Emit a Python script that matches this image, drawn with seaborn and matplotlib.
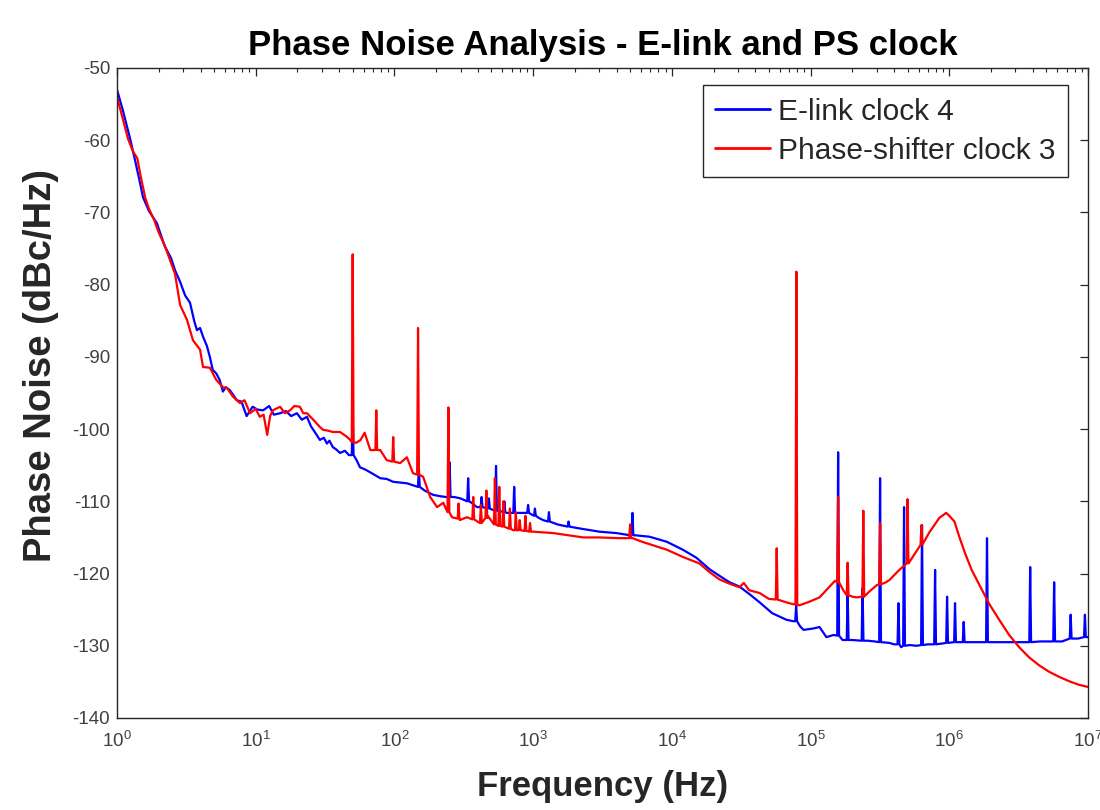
import numpy as np
import pandas as pd
import matplotlib
matplotlib.use("Agg")
import matplotlib.pyplot as plt
import seaborn as sns
from matplotlib.ticker import LogLocator, LogFormatterSciNotation, NullFormatter

# ---------------- data ----------------
series_names = ["E-link clock 4", "Phase-shifter clock 3"]

elink_freq = [1.0, 1.1, 1.24, 1.35, 1.45, 1.54, 1.7, 1.94, 2.2, 2.45, 2.62, 2.85, 3.1, 3.36, 3.6,
              3.77, 3.97, 4.17, 4.45, 4.67, 4.9, 5.2, 5.5, 5.8, 6.1, 6.5, 6.9, 7.3, 7.9, 8.6, 9.5,
              10.3, 11.3, 12.5, 13.5, 15.0, 16.5, 18.0, 19.8, 21.5, 23.4, 25.0, 27.5, 29.0, 31.0,
              32.6, 34.0, 36.0, 38.0, 40.5, 44.0, 47.0, 53.0, 56.5, 60.0, 63.0, 70.0, 79.0, 88.0,
              98.0, 110, 123, 137, 165, 190, 215, 235, 270, 300, 360, 393, 450, 514, 570, 647, 800,
              870, 970, 1100, 1180, 1500, 2080, 3000, 4000, 5000, 5450, 6900, 9200, 12000, 15000,
              18700, 22000, 26000, 30700, 36000, 43000, 53000, 67000, 75000, 84000, 89000, 105000,
              116000, 130000, 147000, 170000, 200000, 260000, 290000, 370000, 400000, 450000,
              520000, 580000, 700000, 880000, 1200000, 1500000, 2500000, 3200000, 4500000,
              6500000, 8500000, 10000000]
elink_db = [-53.0, -55.8, -59.7, -62.8, -65.5, -67.9, -69.8, -71.5, -74.6, -76.3, -78.0, -79.6, -81.5,
            -82.5, -85.0, -86.3, -86.0, -87.2, -88.5, -90.0, -91.8, -92.3, -93.2, -94.8, -94.2, -94.6,
            -95.3, -96.0, -96.2, -98.2, -96.9, -97.3, -97.4, -96.8, -98.0, -97.8, -97.5, -98.2, -97.8,
            -98.7, -98.3, -99.6, -100.8, -101.5, -101.2, -102.0, -101.6, -102.5, -102.8, -103.3,
            -103.0, -103.6, -104.2, -105.3, -105.5, -105.7, -106.2, -106.8, -106.9, -107.3, -107.4,
            -107.5, -107.8, -108.5, -109.1, -109.3, -109.4, -109.4, -109.6, -110.2, -110.8, -110.9,
            -111.2, -111.3, -111.6, -111.6, -111.6, -111.8, -112.3, -112.6, -113.2, -113.7, -114.2,
            -114.4, -114.7, -114.7, -114.9, -115.6, -116.7, -117.8, -119.4, -120.3, -121.2, -121.8,
            -122.8, -124.0, -125.5, -126.4, -126.6, -127.3, -127.8, -127.6, -127.4, -128.8, -128.5,
            -129.2, -129.2, -129.3, -129.4, -129.6, -129.8, -130.2, -129.9, -130.0, -129.8, -129.7,
            -129.5, -129.5, -129.5, -129.5, -129.4, -129.4, -129.0, -128.8]
elink_spike_freq = [50, 150, 250, 340, 425, 480, 540, 620, 730, 920, 1030, 1300, 1800, 5200, 78700,
                    158000, 185000, 237000, 317000, 430000, 472000, 636000, 790000, 964000,
                    1100000, 1270000, 1870000, 3830000, 5700000, 7500000, 9500000]
elink_spike_base = [-103.6, -108.0, -109.4, -110.0, -110.8, -111.0, -111.3, -111.5, -111.6, -111.6,
                    -112.0, -112.8, -113.5, -114.7, -126.6, -128.6, -129.2, -129.3, -129.5, -129.8,
                    -130.0, -129.9, -129.8, -129.6, -129.5, -129.5, -129.5, -129.5, -129.4, -129.0,
                    -128.8]
elink_spike_peak = [-98.0, -105.5, -104.6, -106.8, -109.4, -109.6, -105.1, -110.0, -108.0, -110.5,
                    -111.0, -111.5, -112.8, -111.6, -124.4, -103.2, -122.5, -122.0, -106.8, -124.1,
                    -110.8, -113.3, -119.5, -123.2, -124.1, -126.7, -115.1, -119.1, -121.2, -125.7,
                    -125.7]

ps_freq = [1.0, 1.1, 1.2, 1.3, 1.4, 1.5, 1.6, 1.7, 1.85, 2.0, 2.2, 2.4, 2.62, 2.85, 3.2, 3.53, 3.97,
           4.17, 4.67, 5.2, 5.8, 6.2, 6.85, 7.7, 8.3, 9.1, 10.0, 10.7, 11.4, 12.1, 12.7, 13.3, 15.0,
           16.2, 17.7, 19.0, 20.8, 22.0, 23.4, 26.0, 29.0, 30.6, 33.0, 36.0, 40.5, 45.0, 48.0, 53.0,
           57.0, 61.0, 67.0, 79.0, 88.0, 110.0, 123.0, 136.0, 161.0, 181.0, 203.0, 225.0, 260.0,
           296.0, 333.0, 412.0, 470, 550.0, 718.0, 1000.0, 1400.0, 2300.0, 3000.0, 4200.0, 5200.0,
           6100.0, 9200.0, 12000.0, 15800, 18700, 22000, 26000, 30700, 33000, 36000, 43000, 50000,
           60000, 70000, 83000, 98000, 116000, 137000, 150000, 172000, 200000, 215000, 265000,
           300000, 350000, 370000, 436000, 520000, 608000, 718000, 800000, 847000, 950000, 1000000,
           1090000, 1180000, 1300000, 1450000, 1640000, 1940000, 2290000, 2700000, 3190000,
           3760000, 4440000, 5240000, 6190000, 7300000, 8600000, 10000000]
ps_db = [-54.0, -57.0, -59.8, -61.5, -62.5, -65.5, -68.0, -69.5, -71.0, -72.8, -74.5, -76.5, -78.5,
         -82.8, -84.9, -87.7, -89.0, -91.4, -91.5, -93.2, -94.2, -94.3, -95.5, -96.4, -96.0, -97.8,
         -97.2, -98.3, -98.0, -100.8, -98.2, -97.4, -96.9, -97.8, -97.4, -96.8, -96.9, -97.8, -97.8,
         -98.7, -99.7, -100.1, -100.2, -100.4, -100.4, -101.0, -101.5, -101.9, -101.5, -100.5,
         -102.9, -102.9, -104.3, -104.7, -103.9, -106.1, -106.6, -109.4, -110.8, -110.2, -112.2,
         -112.6, -112.2, -113.0, -112.0, -113.3, -114.0, -114.2, -114.4, -115.0, -115.0, -115.1,
         -115.1, -115.6, -116.7, -117.7, -118.6, -119.8, -120.8, -121.4, -121.9, -121.3, -122.3,
         -122.7, -123.5, -123.7, -124.1, -124.4, -123.9, -123.3, -121.8, -121.0, -122.3, -123.2,
         -123.3, -122.5, -121.6, -121.2, -120.9, -119.5, -118.3, -116.3, -114.3, -113.0, -112.3,
         -111.6, -112.0, -112.8, -114.9, -117.2, -119.5, -121.5, -124.2, -126.4, -128.5, -130.2,
         -131.6, -132.7, -133.6, -134.3, -134.9, -135.4, -135.7]
ps_spike_freq = [50, 74, 98, 148, 245, 290, 370, 420, 460, 530, 570, 610, 680, 750, 800, 880, 950,
                 5000, 57000, 79000, 158000, 185000, 240000, 317000, 500000, 630000]
ps_spike_base = [-101.8, -102.9, -104.5, -106.3, -111.5, -112.4, -112.5, -113.0, -112.3, -113.2,
                 -113.4, -113.5, -113.8, -114.0, -114.0, -114.1, -114.2, -115.1, -123.6, -124.3,
                 -121.2, -123.0, -123.2, -121.5, -118.6, -116.0]
ps_spike_peak = [-75.8, -97.4, -101.1, -86.0, -97.0, -110.3, -109.4, -110.5, -108.5, -106.8,
                 -108.0, -110.0, -111.0, -111.5, -112.6, -112.0, -113.0, -113.2, -116.5, -78.2,
                 -109.4, -118.5, -111.3, -113.0, -109.7, -113.3]

x_ticks = [1e0, 1e1, 1e2, 1e3, 1e4, 1e5, 1e6, 1e7]
y_ticks = list(range(-140, -49, 10))

# ---------------- build tidy frame ----------------
SPIKE_W = 1.015  # half-width factor of a spike on the log axis (style)


def build(name, freq, db, sf, sb, sp):
    xs = list(freq)
    ys = list(db)
    for f, b, p in zip(sf, sb, sp):
        xs += [f / SPIKE_W, f, f * SPIKE_W]
        ys += [b, p, b]
    return pd.DataFrame({"Frequency": xs, "PN": ys, "Series": name})


df = pd.concat([
    build(series_names[0], elink_freq, elink_db, elink_spike_freq, elink_spike_base, elink_spike_peak),
    build(series_names[1], ps_freq, ps_db, ps_spike_freq, ps_spike_base, ps_spike_peak),
], ignore_index=True)

# ---------------- style ----------------
sns.set_style("white")
plt.rcParams["font.family"] = ["Liberation Sans", "DejaVu Sans"]
plt.rcParams["mathtext.fontset"] = "custom"
plt.rcParams["mathtext.rm"] = "Liberation Sans"
plt.rcParams["mathtext.it"] = "Liberation Sans"
plt.rcParams["mathtext.default"] = "regular"
plt.rcParams["axes.unicode_minus"] = False

fig = plt.figure(figsize=(11, 8.1), dpi=100)
ax = fig.add_axes([117 / 1100, 1 - 718 / 810, (1088 - 117) / 1100, (718 - 68) / 810])

sns.lineplot(data=df, x="Frequency", y="PN", hue="Series", hue_order=series_names,
             palette=["#0000FF", "#FF0000"], estimator=None, sort=True, linewidth=1.6, ax=ax)

ax.set_xscale("log")
ax.set_xlim(1, 1e7)
ax.set_ylim(-140, -50)
ax.set_xticks(x_ticks)
ax.xaxis.set_major_formatter(LogFormatterSciNotation())
ax.xaxis.set_minor_locator(LogLocator(base=10, subs=np.arange(2, 10), numticks=100))
ax.xaxis.set_minor_formatter(NullFormatter())
ax.set_yticks(y_ticks)

gray = "#262626"
tick_gray = "#404040"
for sp in ax.spines.values():
    sp.set_visible(True)
    sp.set_color(gray)
    sp.set_linewidth(1.0)
ax.tick_params(which="both", direction="in", top=True, right=True, colors=gray, labelcolor=tick_gray)
ax.tick_params(which="major", length=6, width=0.9)
ax.tick_params(which="minor", length=3, width=0.8)
ax.tick_params(axis="x", which="major", labelsize=13.5, pad=9)
ax.tick_params(axis="y", which="major", labelsize=13.5, pad=5)

ax.set_title("Phase Noise Analysis - E-link and PS clock", fontsize=25, fontweight="bold",
             color="black", pad=9)
ax.set_xlabel("Frequency (Hz)", fontsize=25, fontweight="bold", color=gray)
ax.xaxis.set_label_coords(0.5, -0.08)
ax.set_ylabel("Phase Noise (dBc/Hz)", fontsize=27.5, fontweight="bold", color=gray)
ax.yaxis.set_label_coords(-0.06, 0.543)

handles, labels = ax.get_legend_handles_labels()
leg = ax.legend(handles, labels, loc="upper right",
                bbox_to_anchor=((1068 - 117) / 971, (718 - 85) / 650),
                borderaxespad=0, fontsize=21.5, frameon=True, fancybox=False, framealpha=1,
                edgecolor=gray, handlelength=1.85, handletextpad=0.25, borderpad=0.42,
                labelspacing=0.38)
leg.get_frame().set_linewidth(1.0)
for h in leg.get_lines():
    h.set_linewidth(2.0)

fig.savefig("out.png", dpi=100, facecolor="white")
